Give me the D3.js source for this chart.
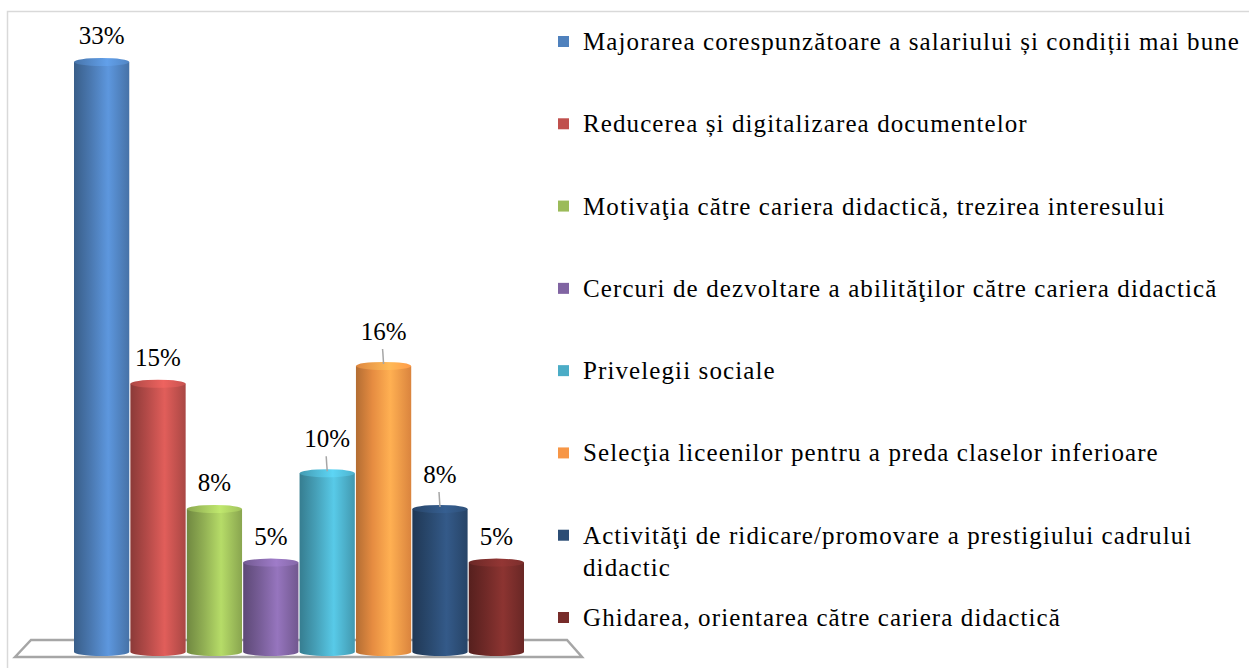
<!DOCTYPE html>
<html>
<head>
<meta charset="utf-8">
<script src="https://cdn.jsdelivr.net/npm/d3@7"></script>
<style>
  body { margin: 0; background: #fff; }
  svg text { font-family: Liberation Serif, Tinos, DejaVu Serif, Times New Roman, Times, serif; }
</style>
</head>
<body>
<svg id="chart" width="1249" height="668"></svg>
<script>
// data
var categories = [
  "Majorarea corespunzătoare a salariului și condiții mai bune",
  "Reducerea și digitalizarea documentelor",
  "Motivaţia către cariera didactică, trezirea interesului",
  "Cercuri de dezvoltare a abilităţilor către cariera didactică",
  "Privelegii sociale",
  "Selecţia liceenilor pentru a preda claselor inferioare",
  "Activităţi de ridicare/promovare a prestigiului cadrului didactic",
  "Ghidarea, orientarea către cariera didactică"
];
var values = [33, 15, 8, 5, 10, 16, 8, 5];
var colors = ["#4F81BD", "#C0504D", "#9BBB59", "#8064A2", "#4BACC6", "#F79646", "#2C4D75", "#772C2A"];
// labels that sit on a leader line in the original
var withLeader = [false, false, false, false, true, true, true, false];

var svg = d3.select("#chart");

// chart frame (only top and left edges visible)
svg.append("path")
    .attr("d", "M7.5,668 L7.5,11.5 L1249,11.5")
    .attr("fill", "none")
    .attr("stroke", "#d9d9d9")
    .attr("stroke-width", 1.5);

var x = d3.scaleBand().domain(d3.range(values.length)).range([74, 524]).paddingInner(0.02);
var y = d3.scaleLinear().domain([0, 33]).range([652, 62]);

// floor
svg.append("path")
    .attr("d", "M15,657 L31,640 L567,640 L582,657 Z")
    .attr("fill", "#fff")
    .attr("stroke", "#a6a6a6")
    .attr("stroke-width", 2.5);

var defs = svg.append("defs");
colors.forEach(function(c, i) {
  var base = d3.color(c);
  var g = defs.append("linearGradient").attr("id", "side" + i)
      .attr("x1", "0%").attr("x2", "100%").attr("y1", "0%").attr("y2", "0%");
  g.append("stop").attr("offset", "0%").attr("stop-color", base.darker(0.9));
  g.append("stop").attr("offset", "30%").attr("stop-color", base.darker(0.2));
  g.append("stop").attr("offset", "62%").attr("stop-color", base.brighter(0.45));
  g.append("stop").attr("offset", "100%").attr("stop-color", base.darker(0.35));
  var t = defs.append("linearGradient").attr("id", "top" + i)
      .attr("x1", "0%").attr("x2", "100%").attr("y1", "0%").attr("y2", "0%");
  t.append("stop").attr("offset", "0%").attr("stop-color", base.darker(0.3));
  t.append("stop").attr("offset", "60%").attr("stop-color", base.brighter(0.6));
  t.append("stop").attr("offset", "100%").attr("stop-color", base.brighter(0.1));
});

var ry = 4;
var bars = svg.append("g").selectAll("g")
    .data(values)
    .enter()
    .append("g");

bars.append("path")
    .attr("fill", function(d, i) { return "url(#side" + i + ")"; })
    .attr("d", function(d, i) {
      var x0 = x(i), x1 = x(i) + x.bandwidth(), rx = x.bandwidth() / 2;
      return "M" + x0 + "," + y(d) + " L" + x0 + "," + y(0) +
        " A" + rx + "," + ry + " 0 0 0 " + x1 + "," + y(0) +
        " L" + x1 + "," + y(d) + " Z";
    });

bars.append("ellipse")
    .attr("cx", function(d, i) { return x(i) + x.bandwidth() / 2; })
    .attr("cy", function(d) { return y(d); })
    .attr("rx", x.bandwidth() / 2)
    .attr("ry", ry)
    .attr("fill", function(d, i) { return "url(#top" + i + ")"; });

// value labels
values.forEach(function(v, i) {
  var cx = x(i) + x.bandwidth() / 2;
  var off = withLeader[i] ? 26 : 18;
  if (withLeader[i]) {
    svg.append("line")
        .attr("x1", cx - 1).attr("y1", y(v) - off + 9)
        .attr("x2", cx).attr("y2", y(v) - 2)
        .attr("stroke", "#a6a6a6")
        .attr("stroke-width", 1.5);
  }
  svg.append("text")
      .attr("x", cx)
      .attr("y", y(v) - off)
      .attr("text-anchor", "middle")
      .style("font-size", "25px")
      .attr("fill", "#000")
      .text(v + "%");
});

// legend
var legendY = d3.scalePoint().domain(d3.range(categories.length)).range([41, 617]);
var legend = svg.append("g").selectAll("g")
    .data(categories)
    .enter()
    .append("g")
    .attr("transform", function(d, i) { return "translate(558," + legendY(i) + ")"; });

legend.append("rect")
    .attr("x", 0).attr("y", -5)
    .attr("width", 11).attr("height", 11)
    .attr("fill", function(d, i) { return colors[i]; });

legend.append("text")
    .attr("x", 25)
    .attr("y", 9)
    .style("font-size", "25px")
    .style("letter-spacing", "1.1px")
    .attr("fill", "#000")
    .each(function(d) {
      var el = d3.select(this);
      var parts = d.length > 60 ? [d.slice(0, d.lastIndexOf(" ")), d.slice(d.lastIndexOf(" ") + 1)] : [d];
      parts.forEach(function(p, k) {
        el.append("tspan").attr("x", 25).attr("dy", k ? 32 : 0).text(p);
      });
    });
</script>
</body>
</html>
